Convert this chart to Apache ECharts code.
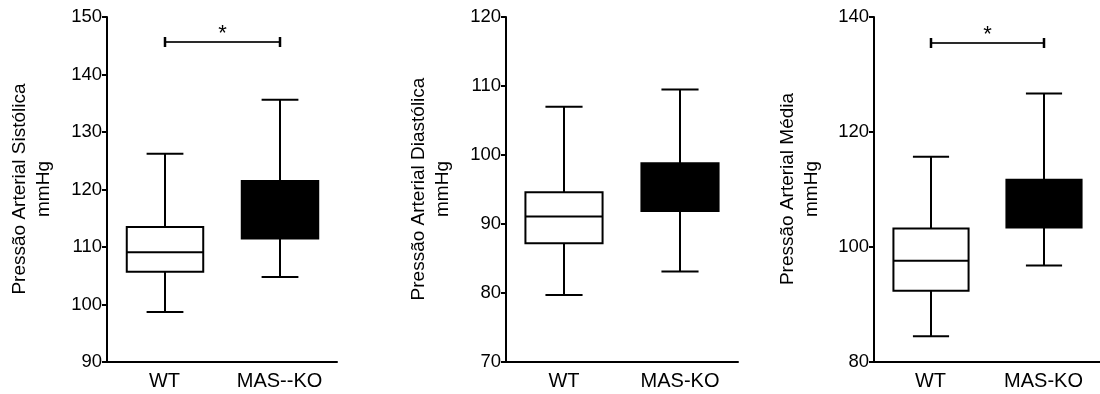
<!DOCTYPE html>
<html>
<head>
<meta charset="utf-8">
<script src="https://cdn.jsdelivr.net/npm/echarts@6/dist/echarts.min.js"></script>
<style>
  html, body { margin: 0; padding: 0; background: #fff; }
  #chart { width: 1100px; height: 394px; }
</style>
</head>
<body>
<div id="chart"></div>
<script>
// Groups on each x axis
const categoriesSys = ['WT', 'MAS--KO'];
const categoriesDia = ['WT', 'MAS-KO'];
const categoriesMed = ['WT', 'MAS-KO'];

// Five-number summaries per group: [min, Q1, median, Q3, max] (mmHg)
const sysWT = [98.7, 105.7, 109.1, 113.5, 126.2];
const sysKO = [104.8, 111.5, 116.5, 121.5, 135.6];
const diaWT = [79.7, 87.2, 91.1, 94.6, 107.0];
const diaKO = [83.1, 91.9, 95.5, 98.8, 109.5];
const medWT = [84.5, 92.4, 97.6, 103.2, 115.7];
const medKO = [96.8, 103.4, 107.5, 111.7, 126.7];

// Y axis tick values
const sysTicks = [90, 100, 110, 120, 130, 140, 150];
const diaTicks = [70, 80, 90, 100, 110, 120];
const medTicks = [80, 100, 120, 140];

// Significance brackets: [from group, to group, bracket level]
const sysSig = [0, 1, 145.7];
const medSig = [0, 1, 135.5];
const sigMark = '*';

// Axis titles
const titleSys = 'Pressão Arterial Sistólica\nmmHg';
const titleDia = 'Pressão Arterial Diastólica\nmmHg';
const titleMed = 'Pressão Arterial Média\nmmHg';

const FONT = "'Liberation Sans', Arial, Helvetica, sans-serif";
const BOX_FILLS = ['#ffffff', '#000000'];

function boxRender(params, api) {
  const c = api.value(0);
  const band = api.size([1, 0])[0];
  const bw = band * 0.665;
  const cw = band * 0.32;
  const pt = (i) => api.coord([c, api.value(i)]);
  const pMin = pt(1), pQ1 = pt(2), pMed = pt(3), pQ3 = pt(4), pMax = pt(5);
  const x = Math.round(pMin[0]);
  const fill = BOX_FILLS[params.dataIndex];
  const ln = (x1, y1, x2, y2) => ({
    type: 'line',
    shape: { x1: x1, y1: y1, x2: x2, y2: y2 },
    style: { stroke: '#000', lineWidth: 2 }
  });
  return {
    type: 'group',
    children: [
      ln(x, pMax[1], x, pMin[1]),
      ln(x - cw / 2, pMax[1], x + cw / 2, pMax[1]),
      ln(x - cw / 2, pMin[1], x + cw / 2, pMin[1]),
      {
        type: 'rect',
        shape: { x: x - bw / 2, y: pQ3[1], width: bw, height: pQ1[1] - pQ3[1] },
        style: { fill: fill, stroke: '#000', lineWidth: 2 }
      },
      ln(x - bw / 2, pMed[1], x + bw / 2, pMed[1])
    ]
  };
}

function sigRender(params, api) {
  const a = api.coord([api.value(0), api.value(2)]);
  const b = api.coord([api.value(1), api.value(2)]);
  const y = Math.round(a[1]);
  const x1 = Math.round(a[0]), x2 = Math.round(b[0]);
  return {
    type: 'group',
    children: [
      { type: 'line', shape: { x1: x1, y1: y, x2: x2, y2: y }, style: { stroke: '#2a2a2a', lineWidth: 2 } },
      { type: 'line', shape: { x1: x1, y1: y - 5, x2: x1, y2: y + 5 }, style: { stroke: '#000', lineWidth: 2.5 } },
      { type: 'line', shape: { x1: x2, y1: y - 5, x2: x2, y2: y + 5 }, style: { stroke: '#000', lineWidth: 2.5 } },
      {
        type: 'text',
        x: (x1 + x2) / 2, y: y - 8,
        style: {
          text: sigMark, fill: '#000', fontSize: 22, fontFamily: FONT,
          align: 'center', verticalAlign: 'middle',
          textAlign: 'center', textVerticalAlign: 'middle'
        }
      }
    ]
  };
}

const panels = [
  { left: 107, width: 230, cats: categoriesSys, ticks: sysTicks, groups: [sysWT, sysKO], sig: sysSig, title: titleSys, titleX: 32 },
  { left: 506, width: 232, cats: categoriesDia, ticks: diaTicks, groups: [diaWT, diaKO], sig: null, title: titleDia, titleX: 431 },
  { left: 874, width: 228, cats: categoriesMed, ticks: medTicks, groups: [medWT, medKO], sig: medSig, title: titleMed, titleX: 800 }
];

const grid = [], xAxis = [], yAxis = [], series = [], graphic = [];
panels.forEach((p, i) => {
  grid.push({ left: p.left, top: 17, width: p.width, height: 345, containLabel: false });
  xAxis.push({
    type: 'category', gridIndex: i, data: p.cats, boundaryGap: true,
    axisLine: { lineStyle: { color: '#000', width: 2 } },
    axisTick: { alignWithLabel: true, length: 4, lineStyle: { color: '#000', width: 2 } },
    axisLabel: { color: '#000', fontSize: 20, fontFamily: FONT, margin: 9 },
    splitLine: { show: false }
  });
  const t = p.ticks;
  yAxis.push({
    type: 'value', gridIndex: i,
    min: t[0], max: t[t.length - 1], interval: t[1] - t[0],
    axisLine: { show: true, lineStyle: { color: '#000', width: 2 } },
    axisTick: { show: true, length: 5, lineStyle: { color: '#000', width: 2 } },
    axisLabel: { color: '#000', fontSize: 18.5, fontFamily: FONT, margin: 5 },
    splitLine: { show: false }
  });
  series.push({
    type: 'custom', xAxisIndex: i, yAxisIndex: i,
    renderItem: boxRender, clip: false, silent: true,
    encode: { x: 0, y: [1, 2, 3, 4, 5] },
    data: p.groups.map((g, k) => [k].concat(g))
  });
  if (p.sig) {
    series.push({
      type: 'custom', xAxisIndex: i, yAxisIndex: i,
      renderItem: sigRender, clip: false, silent: true,
      encode: { x: [0, 1], y: 2 },
      data: [p.sig]
    });
  }
  graphic.push({
    type: 'text', x: p.titleX, y: 189, rotation: Math.PI / 2,
    style: {
      text: p.title, fill: '#000', fontSize: 19, fontFamily: FONT, lineHeight: 24,
      align: 'center', verticalAlign: 'middle',
      textAlign: 'center', textVerticalAlign: 'middle'
    }
  });
});

const chart = echarts.init(document.getElementById('chart'), null, { renderer: 'canvas' });
chart.setOption({
  backgroundColor: '#fff',
  animation: false,
  grid: grid,
  xAxis: xAxis,
  yAxis: yAxis,
  series: series,
  graphic: graphic
});
</script>
</body>
</html>
